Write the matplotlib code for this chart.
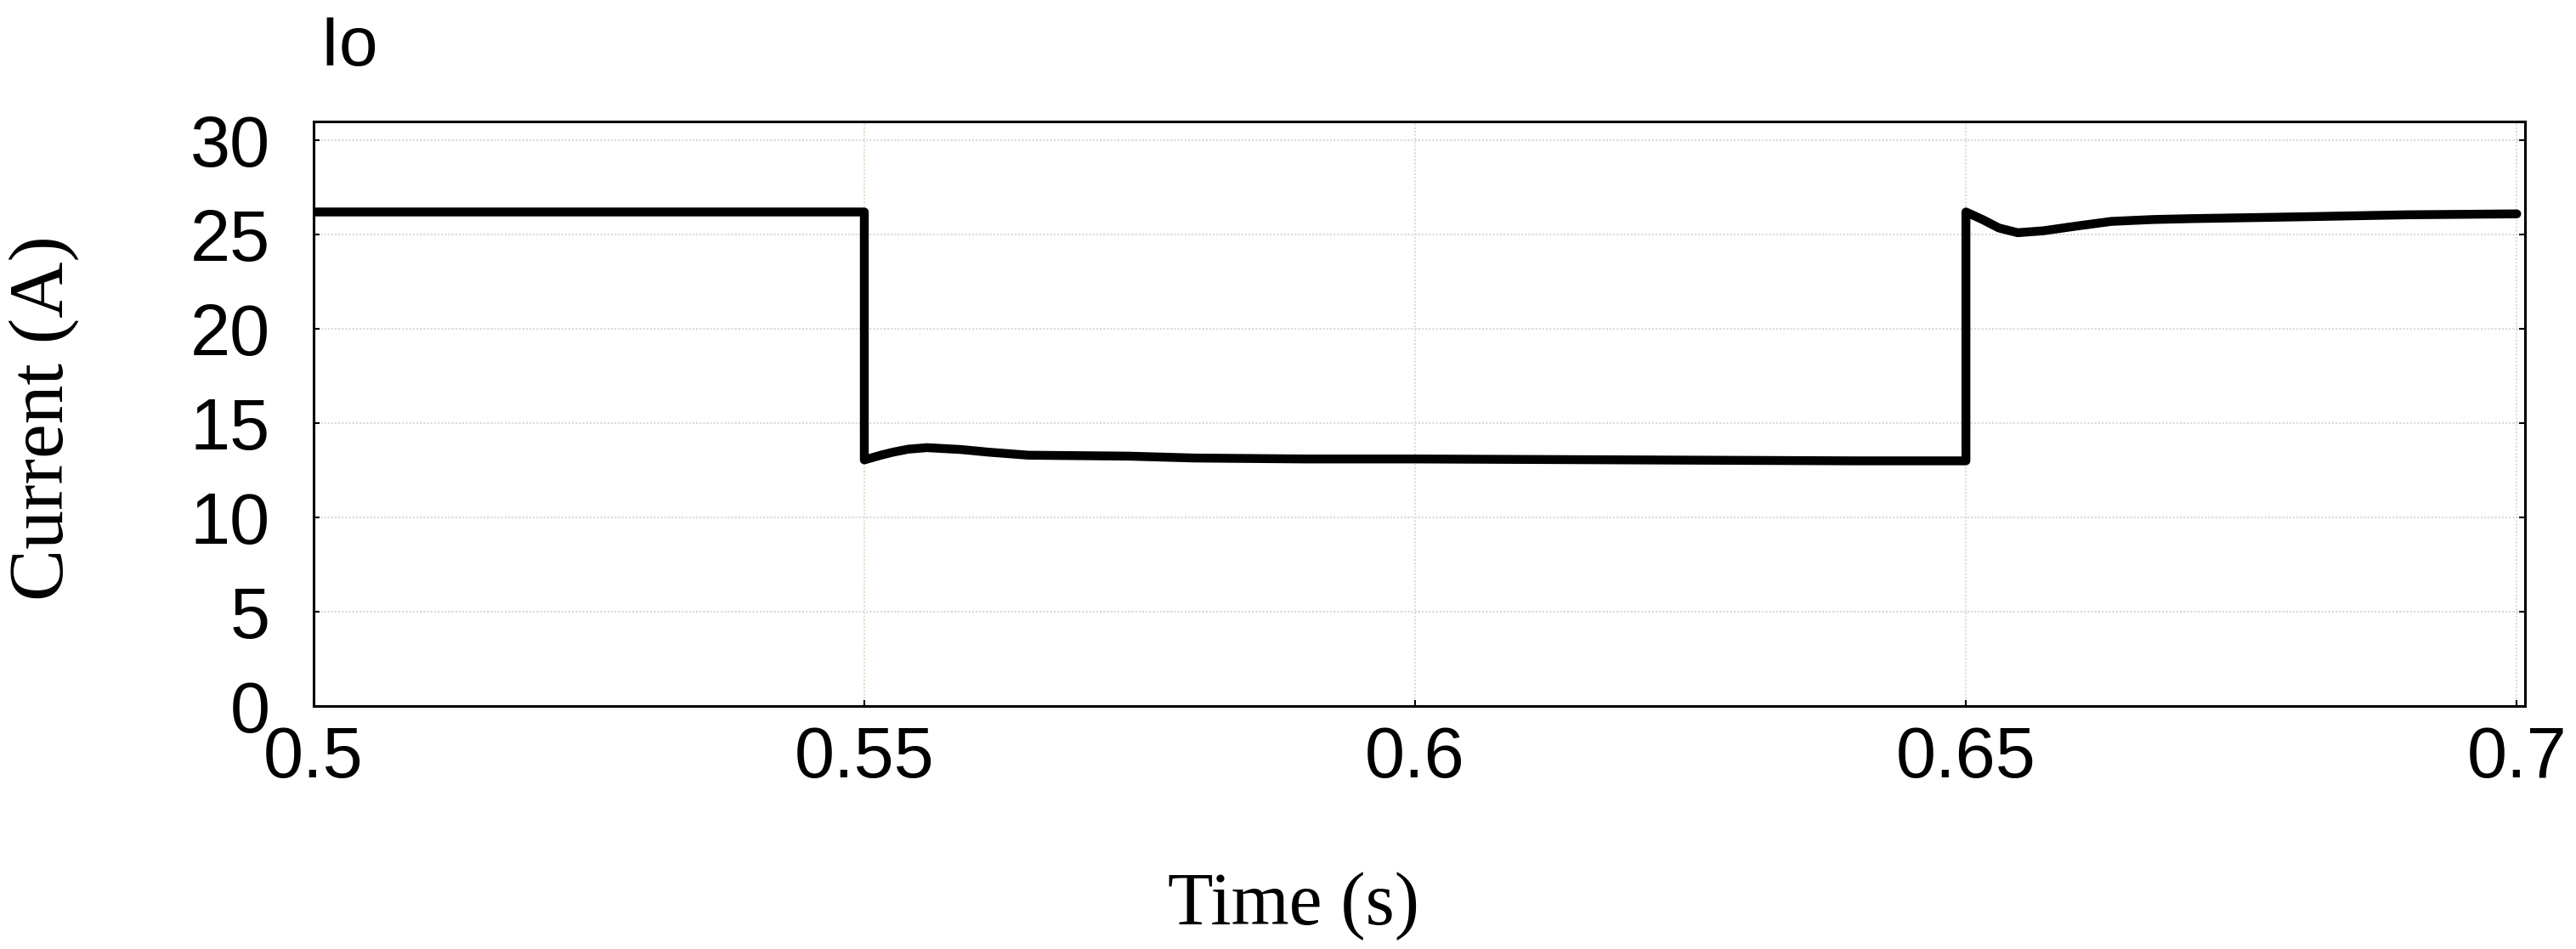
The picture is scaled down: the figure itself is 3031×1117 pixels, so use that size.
import matplotlib
matplotlib.use("Agg")
import matplotlib.pyplot as plt


# waveform of the output current Io
time_s = [0.5, 0.55, 0.55, 0.5515, 0.5526, 0.554, 0.5557, 0.5588, 0.5613,
          0.5649, 0.574, 0.58, 0.59, 0.60, 0.62, 0.64, 0.65,
          0.65, 0.6515, 0.653, 0.6547, 0.657, 0.66, 0.6632, 0.667,
          0.6707, 0.676, 0.681, 0.69, 0.70]
io_amp = [26.2, 26.2, 13.05, 13.3, 13.46, 13.62, 13.7, 13.6, 13.46,
          13.3, 13.25, 13.15, 13.1, 13.1, 13.05, 13.0, 13.0,
          26.2, 25.8, 25.35, 25.1, 25.2, 25.45, 25.7, 25.8,
          25.85, 25.9, 25.95, 26.05, 26.1]

x_ticks = [0.5, 0.55, 0.6, 0.65, 0.7]
x_tick_labels = ["0.5", "0.55", "0.6", "0.65", "0.7"]
y_ticks = [0, 5, 10, 15, 20, 25, 30]

sans = "Liberation Sans"
serif = "Liberation Serif"

fig = plt.figure(figsize=(30.31, 11.17), dpi=100)
ax = fig.add_axes([0.1217, 0.2561, 0.8585, 0.6159])

ax.plot(time_s, io_amp, color="black", lw=7.5,
        solid_joinstyle="round", solid_capstyle="round", zorder=3)

ax.set_xlim(0.5, 0.70075)
ax.set_ylim(0, 31)
ax.set_xticks(x_ticks)
ax.set_xticklabels(x_tick_labels)
ax.set_yticks(y_ticks)

ax.grid(axis="y", color="#d9d9d9", linestyle=(0, (1, 1)), lw=1.5)
ax.grid(axis="x", color="#d3e5c8", linestyle=(0, (1, 1)), lw=1.5)

for sp in ax.spines.values():
    sp.set_linewidth(2.2)

ax.tick_params(axis="both", direction="in", length=5, width=1.5,
               labelsize=61, right=True)
ax.tick_params(axis="y", pad=37)
ax.tick_params(axis="x", pad=16)
for lab in ax.get_xticklabels() + ax.get_yticklabels():
    lab.set_fontfamily(sans)

fig.text(376 / 3031, 1 - 77 / 1117, "Io", fontsize=59, family=sans,
         ha="left", va="baseline")
fig.text(0.502, 1 - 1088 / 1117, "Time (s)", fontsize=63, family=serif,
         ha="center", va="baseline")
fig.text(52 / 3031, 1 - 492 / 1117, "Current (A)", fontsize=66,
         family=serif, rotation=90, ha="center", va="center")

fig.savefig("out.png", dpi=100)
